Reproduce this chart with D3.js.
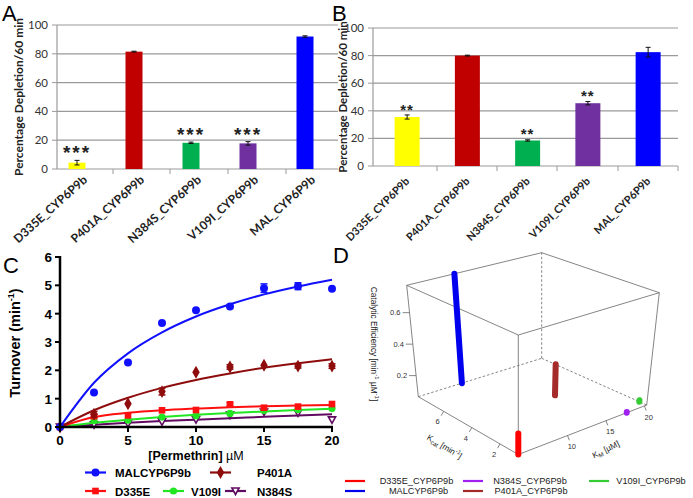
<!DOCTYPE html>
<html><head><meta charset="utf-8">
<script src="https://cdn.jsdelivr.net/npm/d3@7"></script>
<style>body{margin:0;background:#fff}svg{display:block}</style>
</head><body><svg id="c" width="693" height="498"></svg>
<script>
// ---------------- DATA ----------------
const barCats = ["D335E_CYP6P9b","P401A_CYP6P9b","N384S_CYP6P9b","V109I_CYP6P9b","MAL_CYP6P9b"];
const barColors = ["#FFFF00","#C00000","#00B050","#7030A0","#0000FF"];
const depletionA = [4.4, 81.5, 18.2, 17.8, 92.0];
const errA = [1.6, 0.3, 0.5, 1.2, 0.5];
const starsA = ["***","","***","***",""];
const depletionB = [35.5, 80.0, 18.5, 45.5, 82.5];
const errB = [1.5, 0.3, 0.5, 1.2, 3.5];
const starsB = ["**","","**","**",""];
const barYTicks = [0,20,40,60,80,100];

const conc = [0,2.5,5,7.5,10,12.5,15,17.5,20];
const cNames = ["MALCYP6P9b","P401A","D335E","V109I","N384S"];
const cColors = ["#1010ff","#8e0c0c","#ff1010","#22e622","#600a60"];
const cMarkers = ["circle","diamond","square","circle","triangle"];
const malPts  = [0,1.22,2.28,3.67,4.12,4.25,4.90,4.97,4.88];
const p401Pts = [0,0.45,0.82,1.25,1.93,2.12,2.18,2.15,2.15];
const d335Pts = [0,0.38,0.41,0.59,0.60,0.80,0.68,0.72,0.81];
const v109Pts = [0,0.22,0.24,0.35,0.40,0.48,0.58,0.62,0.65];
const n384Pts = [0,0.08,0.12,0.18,0.26,0.42,0.53,0.50,0.25];
const malErr  = [0,0,0,0,0,0,0.15,0.12,0];
const p401Err = [0,0.1,0,0.12,0,0.08,0,0.07,0.08];
const d335Err = [0,0.07,0,0,0,0.05,0,0,0];
const v109Err = [0,0,0,0,0,0,0,0,0];
const n384Err = [0,0,0,0,0,0,0,0,0];
const malFit  = [0,1.56,2.60,3.34,3.90,4.33,4.68,4.96,5.20];
const p401Fit = [0,0.59,1.03,1.38,1.66,1.89,2.09,2.25,2.39];
const d335Fit = [0,0.35,0.50,0.59,0.65,0.70,0.73,0.76,0.78];
const v109Fit = [0,0.15,0.26,0.35,0.43,0.49,0.55,0.60,0.64];
const n384Fit = [0,0.08,0.15,0.21,0.26,0.31,0.36,0.41,0.45];
const cXTicks = [0,5,10,15,20];
const cYTicks = [0,1,2,3,4,5,6];

const dNames = ["D335E_CYP6P9b","MALCYP6P9b","N384S_CYP6P9b","P401A_CYP6P9b","V109I_CYP6P9b"];
const dColors = ["#ff0000","#0000ee","#a020f0","#a52a2a","#33cc33"];
const kmVals   = [3.6, 9.5, 17.7, 15.1, 20.3];
const kcatVals = [0.7, 7.8, 0.7, 4.25, 1.2];
const effVals  = [0.191, 0.774, 0.07, 0.265, 0.075];
const kmDomain = [3.6, 20.3], kcatDomain = [0.7, 7.8], effDomain = [0.066, 0.774];
const kmTicks = [10,15,20], kcatTicks = [2,4,6], effTicks = [0.2,0.4,0.6];

// ---------------- DRAW ----------------
const svg = d3.select("#c");
const F = "Lato, 'Liberation Sans', Arial, sans-serif";
const AR = "'Liberation Sans', Arial, sans-serif";

function panelLabel(t,x,y,s){ svg.append("text").attr("x",x).attr("y",y).attr("font-family",AR).attr("font-size",s).text(t); }
panelLabel("A",2,21,22); panelLabel("B",332,21,22); panelLabel("C",3,273,22); panelLabel("D",333,263,22);

function barPanel(o){
  const g = svg.append("g");
  const y = d3.scaleLinear().domain([0,100]).range([o.y0,o.y1]);
  const x = d3.scalePoint().domain(barCats).range(o.xr).padding(0.5);
  g.selectAll(".gl").data(barYTicks).join("line")
   .attr("x1",o.left).attr("x2",o.right).attr("y1",d=>y(d)).attr("y2",d=>y(d))
   .attr("stroke","#9a9a9a").attr("stroke-width",1.2);
  g.append("line").attr("x1",o.left).attr("x2",o.left).attr("y1",y(0)).attr("y2",y(100)).attr("stroke","#9a9a9a").attr("stroke-width",1.2);
  g.selectAll(".yt").data(barYTicks).join("line").attr("x1",o.left-5).attr("x2",o.left).attr("y1",d=>y(d)).attr("y2",d=>y(d)).attr("stroke","#9a9a9a");
  g.selectAll(".ytl").data(barYTicks).join("text").attr("x",o.left-9).attr("y",d=>y(d)+4)
   .attr("text-anchor","end").attr("font-family",F).attr("font-size",11.5).attr("fill","#333").text(d=>d);
  o.xt.forEach(t=> g.append("line").attr("x1",t).attr("x2",t).attr("y1",y(0)).attr("y2",y(0)+5).attr("stroke","#9a9a9a"));
  g.selectAll(".bar").data(o.vals).join("rect")
   .attr("x",(d,i)=>x(barCats[i])-o.bw/2).attr("width",o.bw)
   .attr("y",d=>y(d)).attr("height",d=>y(0)-y(d))
   .attr("fill",(d,i)=>barColors[i]);
  o.vals.forEach((v,i)=>{
    const cx = x(barCats[i]), e = o.err[i];
    g.append("line").attr("x1",cx).attr("x2",cx).attr("y1",y(v-e)).attr("y2",y(v+e)).attr("stroke","#111");
    [v-e,v+e].forEach(w=> g.append("line").attr("x1",cx-2.5).attr("x2",cx+2.5).attr("y1",y(w)).attr("y2",y(w)).attr("stroke","#111"));
    if(o.stars[i]) g.append("text").attr("x",cx).attr("y",y(v+e)-o.sOff+o.sSize*0.58)
      .attr("text-anchor","middle").attr("font-family",AR).attr("font-weight","bold")
      .attr("font-size",o.sSize).attr("letter-spacing",o.sSp).attr("fill","#222").text(o.stars[i]);
    g.append("text").attr("transform",`translate(${cx+o.lx},${o.ly}) rotate(${o.rot})`)
     .attr("text-anchor","end").attr("font-family",F).attr("font-weight","bold").attr("font-size",o.lfs)
     .attr("fill","#222").text(barCats[i]);
  });
  g.append("text").attr("transform",`translate(${o.tx},${(o.y0+o.y1)/2}) rotate(-90)`)
   .attr("text-anchor","middle").attr("font-family",F).attr("font-weight","bold").attr("font-size",o.tfs)
   .attr("fill","#222").text("Percentage Depletion/60 min");
}
barPanel({y0:169,y1:25,xr:[48.5,333.5],left:57,right:338,bw:17,vals:depletionA,err:errA,stars:starsA,
  xt:[113,170,228,286],lx:11,ly:181,rot:-42,lfs:12,tx:23,tfs:12,sSize:19,sOff:12,sSp:2});
barPanel({y0:166,y1:28,xr:[377,678.25],left:373,right:678,bw:25,vals:depletionB,err:errB,stars:starsB,
  xt:[437,497,557,618,678],lx:3,ly:182,rot:-45,lfs:10.8,tx:347,tfs:11.5,sSize:15,sOff:9,sSp:1});

// -------- Panel C --------
(function(){
  const g = svg.append("g");
  const x = d3.scaleLinear().domain([0,20]).range([60,332]);
  const y = d3.scaleLinear().domain([0,6]).range([427,257]);
  const pts = [malPts,p401Pts,d335Pts,v109Pts,n384Pts];
  const errs = [malErr,p401Err,d335Err,v109Err,n384Err];
  const fits = [malFit,p401Fit,d335Fit,v109Fit,n384Fit];
  const line = d3.line().x((d,i)=>x(conc[i])).y(d=>y(d)).curve(d3.curveMonotoneX);
  function marker(sel,type,color,cx,cy){
    if(type==="circle") sel.append("circle").attr("cx",cx).attr("cy",cy).attr("r",color===cColors[3]?3.6:4).attr("fill",color);
    else if(type==="diamond") sel.append("path").attr("d",d3.symbol(d3.symbolDiamond,48)()).attr("transform",`translate(${cx},${cy})`).attr("fill",color);
    else if(type==="square") sel.append("path").attr("d",d3.symbol(d3.symbolSquare,44)()).attr("transform",`translate(${cx},${cy})`).attr("fill",color);
    else sel.append("path").attr("d","M0,3.5L-3.6,-3L3.6,-3Z").attr("transform",`translate(${cx},${cy})`)
      .attr("fill","#fff").attr("stroke",color).attr("stroke-width",1.6);
  }
  for(let s=4;s>=0;s--){
    g.append("path").attr("d",line(fits[s])).attr("fill","none").attr("stroke",cColors[s]).attr("stroke-width",2);
    pts[s].forEach((v,i)=>{
      const e = errs[s][i];
      if(e>0){
        g.append("line").attr("x1",x(conc[i])).attr("x2",x(conc[i])).attr("y1",y(v-e)).attr("y2",y(v+e)).attr("stroke",cColors[s]).attr("stroke-width",1.5);
        [v-e,v+e].forEach(w=>g.append("line").attr("x1",x(conc[i])-3.5).attr("x2",x(conc[i])+3.5).attr("y1",y(w)).attr("y2",y(w)).attr("stroke",cColors[s]).attr("stroke-width",1.5));
      }
      marker(g,cMarkers[s],cColors[s],x(conc[i]),y(v));
    });
  }
  g.append("line").attr("x1",60).attr("x2",60).attr("y1",y(6)-1).attr("y2",y(0)+1).attr("stroke","#000").attr("stroke-width",2.5);
  g.append("line").attr("x1",59).attr("x2",x(20)+1).attr("y1",y(0)).attr("y2",y(0)).attr("stroke","#000").attr("stroke-width",2.5);
  cYTicks.forEach(t=>{
    g.append("line").attr("x1",55).attr("x2",60).attr("y1",y(t)).attr("y2",y(t)).attr("stroke","#000").attr("stroke-width",2);
    g.append("text").attr("x",52).attr("y",y(t)+5).attr("text-anchor","end").attr("font-family",AR).attr("font-weight","bold").attr("font-size",13.5).text(t);
  });
  cXTicks.forEach(t=>{
    g.append("line").attr("x1",x(t)).attr("x2",x(t)).attr("y1",427).attr("y2",432).attr("stroke","#000").attr("stroke-width",2);
    g.append("text").attr("x",x(t)).attr("y",444.5).attr("text-anchor","middle").attr("font-family",AR).attr("font-weight","bold").attr("font-size",13.5).text(t);
  });
  const xt = g.append("text").attr("x",196).attr("y",460).attr("text-anchor","middle").attr("font-family",AR).attr("font-weight","bold").attr("font-size",12.5);
  xt.append("tspan").text("[Permethrin] ");
  xt.append("tspan").attr("font-weight","normal").text("µM");
  const yt = g.append("text").attr("transform","translate(20,343) rotate(-90)").attr("text-anchor","middle").attr("font-family",AR).attr("font-weight","bold").attr("font-size",14.5);
  yt.append("tspan").text("Turnover (min");
  yt.append("tspan").attr("font-size",9).attr("dy",-6).text("-1");
  yt.append("tspan").attr("dy",6).text(")");
  const leg = [[0,85,472.5,115],[1,210,472.5,257],[2,85,491,115],[3,163,491,191],[4,225,491,257]];
  leg.forEach(([s,lx,ly,tx])=>{
    g.append("line").attr("x1",lx).attr("x2",lx+21).attr("y1",ly).attr("y2",ly).attr("stroke",cColors[s]).attr("stroke-width",2.2);
    marker(g,cMarkers[s],cColors[s],lx+10.5,ly);
    g.append("text").attr("x",tx).attr("y",ly+4.5).attr("font-family",AR).attr("font-weight","bold").attr("font-size",11.5).text(cNames[s]);
  });
})();

// -------- Panel D --------
(function(){
  const g = svg.append("g");
  const C = {"000":[518.3,454.5],"100":[646.7,405],"010":[418.3,396.7],"110":[541.7,358.3],
             "001":[518.3,335],"101":[659.3,292.7],"011":[406.7,285.3],"111":[541.7,252.7]};
  const su = d3.scaleLinear().domain(kmDomain).range([0,1]);
  const sv = d3.scaleLinear().domain(kcatDomain).range([0,1]);
  const sw = d3.scaleLinear().domain(effDomain).range([0,1]);
  function P(u,v,w){
    let X=0,Y=0;
    for(const a of [0,1])for(const b of [0,1])for(const c of [0,1]){
      const wt=(a?u:1-u)*(b?v:1-v)*(c?w:1-w); const p=C[""+a+b+c]; X+=wt*p[0]; Y+=wt*p[1];
    }
    return [X,Y];
  }
  const edges = [["000","100",0],["000","010",0],["100","110",1],["010","110",1],
                 ["001","101",0],["001","011",0],["101","111",0],["011","111",0],
                 ["000","001",0],["100","101",0],["010","011",0],["110","111",1]];
  edges.forEach(([a,b,dash])=>{
    g.append("line").attr("x1",C[a][0]).attr("y1",C[a][1]).attr("x2",C[b][0]).attr("y2",C[b][1])
     .attr("stroke","#666").attr("stroke-width",0.8).attr("stroke-dasharray",dash?"2.5,2":null);
  });
  function txt(x,y,t,anchor){ return g.append("text").attr("x",x).attr("y",y).attr("text-anchor",anchor||"middle")
    .attr("font-family",AR).attr("font-size",7.5).attr("fill","#333").text(t); }
  effTicks.forEach(t=>{ const p=P(0,1,sw(t));
    g.append("line").attr("x1",p[0]-7).attr("x2",p[0]).attr("y1",p[1]).attr("y2",p[1]).attr("stroke","#666").attr("stroke-width",0.8);
    txt(p[0]-9,p[1]+2.5,t,"end"); });
  const nK=[-0.5,0.866];
  kcatTicks.forEach(t=>{ const p=P(0,sv(t),0);
    g.append("line").attr("x1",p[0]).attr("y1",p[1]).attr("x2",p[0]+nK[0]*5).attr("y2",p[1]+nK[1]*5).attr("stroke","#666").attr("stroke-width",0.8);
    txt(p[0]+nK[0]*12,p[1]+nK[1]*12+2.5,t); });
  const nM=[0.36,0.933];
  kmTicks.forEach(t=>{ const p=P(su(t),0,0);
    g.append("line").attr("x1",p[0]).attr("y1",p[1]).attr("x2",p[0]+nM[0]*5).attr("y2",p[1]+nM[1]*5).attr("stroke","#666").attr("stroke-width",0.8);
    txt(p[0]+nM[0]*12,p[1]+nM[1]*12+2.5,t); });
  const et = g.append("text").attr("transform","translate(371,344) rotate(90)").attr("text-anchor","middle").attr("font-family",AR).attr("font-size",8.3).attr("fill","#222");
  et.append("tspan").text("Catalytic Efficiency [min");
  et.append("tspan").attr("font-size",6).attr("dy",-3.5).text("-1");
  et.append("tspan").attr("dy",3.5).text(" µM");
  et.append("tspan").attr("font-size",6).attr("dy",-3.5).text("-1");
  et.append("tspan").attr("dy",3.5).text("]");
  const kt = g.append("text").attr("transform","translate(443,449) rotate(31)").attr("text-anchor","middle").attr("font-family",AR).attr("font-size",8.3).attr("fill","#222");
  kt.append("tspan").text("K");
  kt.append("tspan").attr("font-size",6).attr("dy",2).text("cat");
  kt.append("tspan").attr("dy",-2).text(" [min");
  kt.append("tspan").attr("font-size",6).attr("dy",-3.5).text("-1");
  kt.append("tspan").attr("dy",3.5).text("]");
  const mt = g.append("text").attr("transform","translate(607,452) rotate(-26)").attr("text-anchor","middle").attr("font-family",AR).attr("font-size",8.3).attr("fill","#222");
  mt.append("tspan").text("K");
  mt.append("tspan").attr("font-size",6).attr("dy",2).text("M");
  mt.append("tspan").attr("dy",-2).text(" [µM]");
  const order=[1,3,4,2,0];
  order.forEach(i=>{
    const a=P(su(kmVals[i]),sv(kcatVals[i]),0), b=P(su(kmVals[i]),sv(kcatVals[i]),sw(effVals[i]));
    g.append("line").attr("x1",a[0]).attr("y1",a[1]).attr("x2",b[0]).attr("y2",b[1])
     .attr("stroke",dColors[i]).attr("stroke-width",6).attr("stroke-linecap","round");
  });
  const dl = [[0,345,481,416.5],[2,463,481,530],[4,589,481,651],[1,345,491,418.5],[3,463,491,531]];
  dl.forEach(([i,lx,ly,tc])=>{
    g.append("line").attr("x1",lx).attr("x2",lx+20).attr("y1",ly).attr("y2",ly).attr("stroke",dColors[i]).attr("stroke-width",2.2);
    g.append("text").attr("x",tc).attr("y",ly+3.2).attr("text-anchor","middle").attr("font-family",AR).attr("font-size",9.2).attr("fill","#222").text(dNames[i]);
  });
})();
</script></body></html>
